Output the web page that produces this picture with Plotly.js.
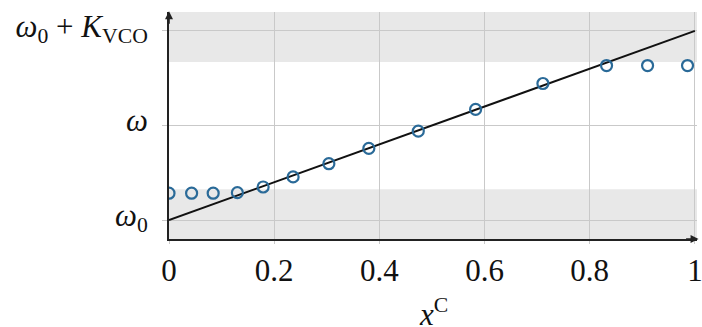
<!DOCTYPE html>
<html>
<head>
<meta charset="utf-8">
<script src="https://cdn.plot.ly/plotly-3.0.1.min.js"></script>
<style>html,body{margin:0;padding:0;background:#fff;}#chart{width:702px;height:327px;}</style>
</head>
<body>
<div id="chart"></div>
<script>
// measured samples (normalised control input x^C -> normalised frequency)
const xSamples = [0, 0.043, 0.084, 0.130, 0.179, 0.236, 0.304, 0.380, 0.474, 0.583, 0.711, 0.832, 0.910, 0.986];
const ySamples = [0.142, 0.142, 0.142, 0.145, 0.175, 0.228, 0.298, 0.379, 0.470, 0.585, 0.722, 0.817, 0.817, 0.817];
// ideal linear VCO characteristic
const xIdeal = [0, 1];
const yIdeal = [0, 1];
// tick definitions
const xTickVals = [0, 0.2, 0.4, 0.6, 0.8, 1];
const xTickText = ['0', '0.2', '0.4', '0.6', '0.8', '1'];
const yTickVals = [0, 0.5, 1];
const yTickText = ['<i>ω</i><sub>0</sub>', '<i>ω</i>', '<i>ω</i><sub>0</sub> + <i>K</i><sub>VCO</sub>'];
const xTitle = '<i>x</i><sup>C</sup>';
// shaded (saturation) regions
const bandLow = [-0.1, 0.163];
const bandHigh = [0.836, 1.1];

const serif = 'Liberation Serif, Times New Roman, Times, serif';

const traces = [
  {x: xIdeal, y: yIdeal, mode: 'lines', line: {color: '#111', width: 2}, hoverinfo: 'skip'},
  {x: xSamples, y: ySamples, mode: 'markers',
   marker: {symbol: 'circle-open', size: 11, color: '#2a6a98', line: {width: 2.2, color: '#2a6a98'}}}
];

const layout = {
  width: 702, height: 327,
  margin: {l: 169, r: 5, t: 12, b: 88},
  paper_bgcolor: '#fff', plot_bgcolor: '#fff',
  showlegend: false,
  font: {family: serif, size: 31, color: '#111'},
  xaxis: {
    range: [0, 1.004], tickvals: xTickVals, ticktext: xTickText,
    showgrid: true, gridcolor: '#c9c9c9', gridwidth: 1,
    zeroline: false, showline: true, linecolor: '#222', linewidth: 2,
    ticks: 'outside', ticklen: 3, tickcolor: '#c9c9c9', tickwidth: 1,
    ticklabeloverflow: 'allow',
    tickfont: {family: serif, size: 31, color: '#111'},
    fixedrange: true
  },
  yaxis: {
    range: [-0.1, 1.1], tickvals: yTickVals, ticktext: yTickText,
    showgrid: true, gridcolor: '#c9c9c9', gridwidth: 1,
    zeroline: false, showline: true, linecolor: '#222', linewidth: 2,
    ticks: 'outside', ticklen: 5, tickcolor: '#c9c9c9', tickwidth: 1,
    ticklabelstandoff: 8, ticklabelshift: -5,
    tickfont: {family: serif, size: 31, color: '#111'},
    fixedrange: true
  },
  shapes: [
    {type: 'rect', xref: 'paper', yref: 'y', x0: 0, x1: 1, y0: bandLow[0], y1: bandLow[1], fillcolor: '#e8e8e8', line: {width: 0}, layer: 'below'},
    {type: 'rect', xref: 'paper', yref: 'y', x0: 0, x1: 1, y0: bandHigh[0], y1: bandHigh[1], fillcolor: '#e8e8e8', line: {width: 0}, layer: 'below'}
  ],
  annotations: [
    {xref: 'paper', yref: 'paper', x: 0.5, y: 0, xanchor: 'center', yanchor: 'top', yshift: -52, text: xTitle, showarrow: false, font: {family: serif, size: 31, color: '#111'}},
    {xref: 'paper', yref: 'paper', x: 1.003, y: 0, ax: -14, ay: 0, axref: 'pixel', ayref: 'pixel', text: '', showarrow: true, arrowhead: 2, arrowsize: 1, arrowwidth: 1.6, arrowcolor: '#222'},
    {xref: 'paper', yref: 'paper', x: 0, y: 1.003, ax: 0, ay: 14, axref: 'pixel', ayref: 'pixel', text: '', showarrow: true, arrowhead: 2, arrowsize: 1, arrowwidth: 1.6, arrowcolor: '#222'}
  ]
};

Plotly.newPlot('chart', traces, layout, {displayModeBar: false, staticPlot: true});
</script>
</body>
</html>
